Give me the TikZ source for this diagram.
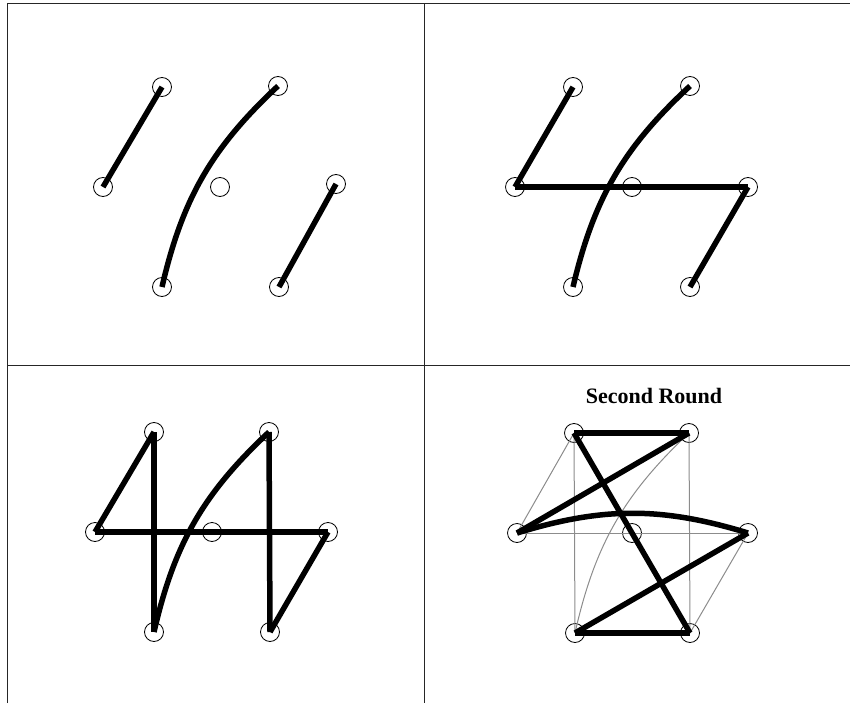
\documentclass[tikz,border=0pt]{standalone}
\usepackage{fontspec}
\setmainfont{Liberation Serif}
\usepackage{tikz}

\begin{document}
\begin{tikzpicture}[x=1pt, y=-1pt,
  vtx/.style={draw, circle, minimum size=19pt, inner sep=0pt, line width=0.8pt},
  frame/.style={line width=1pt, black!85},
  match/.style={line width=5.5pt, black},
  old/.style={line width=1pt, black!45},
  title/.style={font=\fontsize{22}{26}\selectfont\bfseries}]
  \useasboundingbox (0,0) rectangle (850,703);
  % panel frame
  \draw[frame] (7.5,703) -- (7.5,4) -- (850,4);
  \draw[frame] (424,4) -- (424,703);
  \draw[frame] (7.5,365) -- (850,365);

  % first panel
  \node[vtx] (Atl) at (162,87) {};
  \node[vtx] (Atr) at (278,86) {};
  \node[vtx] (Al) at (103,187) {};
  \node[vtx] (Ac) at (220,187) {};
  \node[vtx] (Ar) at (336,184) {};
  \node[vtx] (Abl) at (162,287) {};
  \node[vtx] (Abr) at (279,287) {};
  \draw[match] (Al.center) -- (Atl.center);
  \draw[match] (Abl.center) to[bend left=17] (Atr.center);
  \draw[match] (Abr.center) -- (Ar.center);

  % second panel
  \node[vtx] (Btl) at (573,87) {};
  \node[vtx] (Btr) at (690,86) {};
  \node[vtx] (Bl) at (515,187) {};
  \node[vtx] (Bc) at (632,187) {};
  \node[vtx] (Br) at (748,187) {};
  \node[vtx] (Bbl) at (573,287) {};
  \node[vtx] (Bbr) at (690,287) {};
  \draw[match] (Bl.center) -- (Btl.center);
  \draw[match] (Bbl.center) to[bend left=17] (Btr.center);
  \draw[match] (Bl.center) -- (Br.center);
  \draw[match] (Bbr.center) -- (Br.center);

  % third panel
  \node[vtx] (Ctl) at (154,432) {};
  \node[vtx] (Ctr) at (269,432) {};
  \node[vtx] (Cl) at (95,532) {};
  \node[vtx] (Cc) at (212,532) {};
  \node[vtx] (Cr) at (328,532) {};
  \node[vtx] (Cbl) at (154,632) {};
  \node[vtx] (Cbr) at (270,632) {};
  \draw[match] (Cl.center) -- (Ctl.center);
  \draw[match] (Ctl.center) -- (Cbl.center);
  \draw[match] (Cbl.center) to[bend left=17] (Ctr.center);
  \draw[match] (Ctr.center) -- (Cbr.center);
  \draw[match] (Cl.center) -- (Cr.center);
  \draw[match] (Cbr.center) -- (Cr.center);

  % fourth panel
  \node[title] (round2) at (654,396) {Second Round};
  \node[vtx] (Dtl) at (574,433) {};
  \node[vtx] (Dtr) at (689,433) {};
  \node[vtx] (Dl) at (517,533) {};
  \node[vtx] (Dc) at (632,533) {};
  \node[vtx] (Dr) at (748,533) {};
  \node[vtx] (Dbl) at (575,633) {};
  \node[vtx] (Dbr) at (690,633) {};
  \draw[old] (Dl.center) -- (Dtl.center);
  \draw[old] (Dtl.center) -- (Dbl.center);
  \draw[old] (Dbl.center) to[bend left=17] (Dtr.center);
  \draw[old] (Dtr.center) -- (Dbr.center);
  \draw[old] (Dl.center) -- (Dr.center);
  \draw[old] (Dbr.center) -- (Dr.center);
  \draw[match] (Dtl.center) -- (Dtr.center);
  \draw[match] (Dtr.center) -- (Dl.center);
  \draw[match] (Dl.center) to[bend left=17] (Dr.center);
  \draw[match] (Dtl.center) -- (Dbr.center);
  \draw[match] (Dr.center) -- (Dbl.center);
  \draw[match] (Dbl.center) -- (Dbr.center);
\end{tikzpicture}
\end{document}
